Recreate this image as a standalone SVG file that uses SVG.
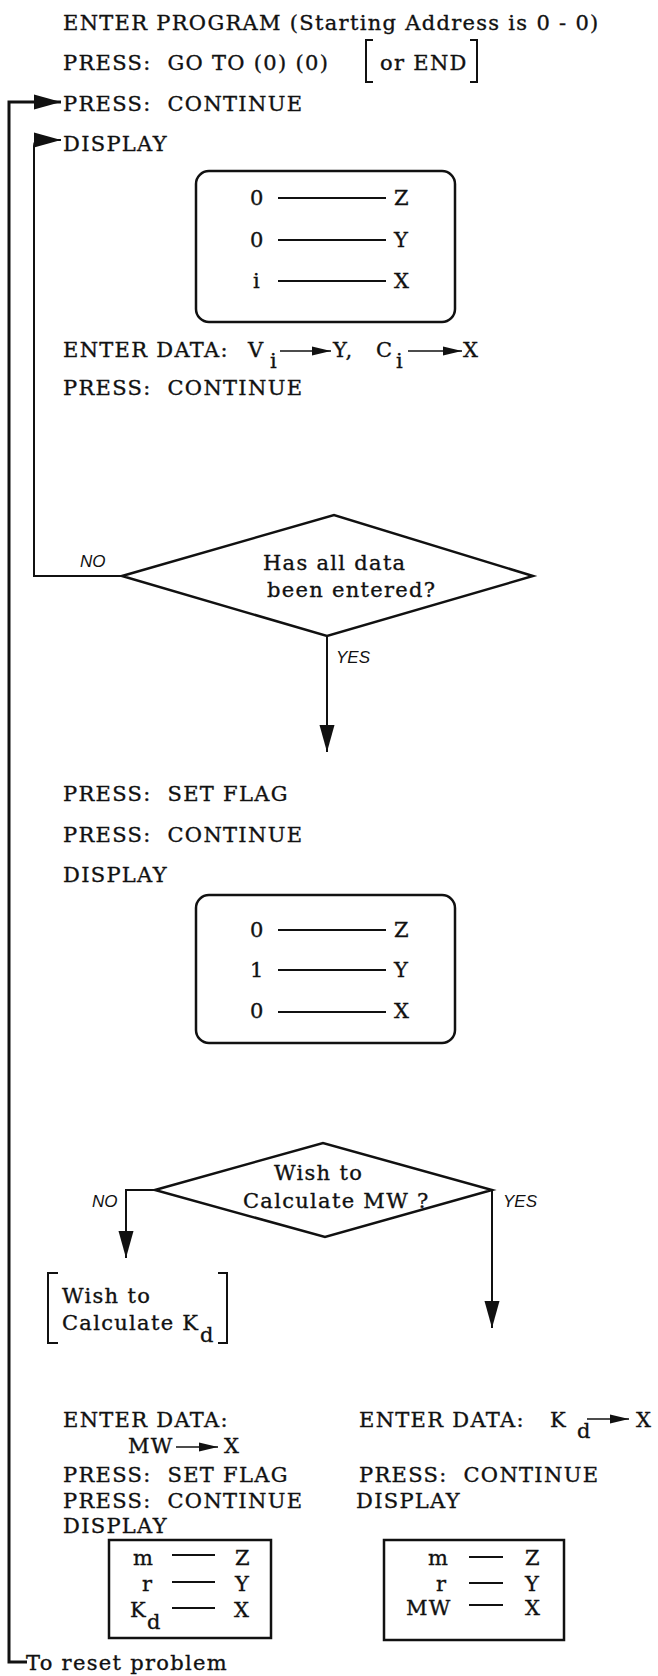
<svg xmlns="http://www.w3.org/2000/svg" width="658" height="1676" viewBox="0 0 658 1676">
<defs>
<style>
.t{font-family:"DejaVu Serif","Liberation Serif",serif;font-size:21px;letter-spacing:1.3px;fill:#111;stroke:#111;stroke-width:0.35}
.lb{font-family:"Liberation Sans",Arial,sans-serif;font-size:17px;font-style:italic;fill:#111}
.ln{fill:none;stroke:#111;stroke-width:2}
.thk{fill:none;stroke:#111;stroke-width:3}
.shape{fill:none;stroke:#111;stroke-width:2.5}
.dash{stroke:#111;stroke-width:2}
.sm{stroke:#111;stroke-width:1.6}
</style>
<marker id="big" markerUnits="userSpaceOnUse" viewBox="-28 -9 29 18" markerWidth="29" markerHeight="18" refX="0" refY="0" orient="auto">
<path d="M0,0 L-27,-7.5 L-27,7.5 Z" fill="#111"/>
</marker>
<marker id="small" markerUnits="userSpaceOnUse" viewBox="-20 -6 21 12" markerWidth="21" markerHeight="12" refX="0" refY="0" orient="auto">
<path d="M0,0 L-19,-4.5 L-19,4.5 Z" fill="#111"/>
</marker>
</defs>
<rect width="658" height="1676" fill="#fff"/>

<g id="start">
<text class="t" x="63" y="30">ENTER PROGRAM (Starting Address is 0 - 0)</text>
<text class="t" x="63" y="70" xml:space="preserve">PRESS:  GO TO (0) (0)</text>
<path class="ln" d="M373,40 H366 V82 H373 M470,40 H477 V82 H470"/>
<text class="t" x="380" y="70">or END</text>
</g>

<g id="continue1">
<text class="t" x="63" y="111" xml:space="preserve">PRESS:  CONTINUE</text>
</g>

<g id="display1">
<text class="t" x="63" y="151">DISPLAY</text>
<rect class="shape" x="196" y="171" width="259" height="151" rx="13"/>
<text class="t" x="250" y="205">0</text>
<line class="dash" x1="278" y1="198" x2="386" y2="198"/>
<text class="t" x="394" y="205">Z</text>
<text class="t" x="250" y="247">0</text>
<line class="dash" x1="278" y1="240" x2="386" y2="240"/>
<text class="t" x="394" y="247">Y</text>
<text class="t" x="253" y="288">i</text>
<line class="dash" x1="278" y1="281" x2="386" y2="281"/>
<text class="t" x="394" y="288">X</text>
</g>

<g id="enter1">
<text class="t" x="63" y="357">ENTER DATA:</text>
<text class="t" x="248" y="357">V</text>
<text class="t" x="270" y="368">i</text>
<line class="sm" x1="280" y1="351" x2="331" y2="351" marker-end="url(#small)"/>
<text class="t" x="333" y="357">Y,</text>
<text class="t" x="376" y="357">C</text>
<text class="t" x="396" y="368">i</text>
<line class="sm" x1="408" y1="351" x2="462" y2="351" marker-end="url(#small)"/>
<text class="t" x="463" y="357">X</text>
<text class="t" x="63" y="395" xml:space="preserve">PRESS:  CONTINUE</text>
</g>

<g id="decision1">
<polygon class="shape" points="122,576 334,515 533,576 327,636"/>
<text class="t" x="263" y="570">Has all data</text>
<text class="t" x="267" y="597">been entered?</text>
</g>

<g id="setflag">
<text class="t" x="63" y="801" xml:space="preserve">PRESS:  SET FLAG</text>
<text class="t" x="63" y="842" xml:space="preserve">PRESS:  CONTINUE</text>
<text class="t" x="63" y="882">DISPLAY</text>
<rect class="shape" x="196" y="895" width="259" height="148" rx="13"/>
<text class="t" x="250" y="937">0</text>
<line class="dash" x1="278" y1="930" x2="386" y2="930"/>
<text class="t" x="394" y="937">Z</text>
<text class="t" x="250" y="977">1</text>
<line class="dash" x1="278" y1="970" x2="386" y2="970"/>
<text class="t" x="394" y="977">Y</text>
<text class="t" x="250" y="1018">0</text>
<line class="dash" x1="278" y1="1012" x2="386" y2="1012"/>
<text class="t" x="394" y="1018">X</text>
</g>

<g id="decision2">
<polygon class="shape" points="155,1190 323,1143 492,1190 325,1237"/>
<text class="t" x="274" y="1180">Wish to</text>
<text class="t" x="243" y="1208">Calculate MW ?</text>
</g>

<g id="kdnote">
<path class="ln" d="M58,1273 H48 V1343 H58 M218,1273 H227 V1343 H218"/>
<text class="t" x="62" y="1303">Wish to</text>
<text class="t" x="62" y="1330">Calculate K</text>
<text class="t" x="200" y="1342">d</text>
</g>

<g id="mwbranch">
<text class="t" x="63" y="1427">ENTER DATA:</text>
<text class="t" x="128" y="1453">MW</text>
<line class="sm" x1="176" y1="1447" x2="218" y2="1447" marker-end="url(#small)"/>
<text class="t" x="224" y="1453">X</text>
<text class="t" x="63" y="1482" xml:space="preserve">PRESS:  SET FLAG</text>
<text class="t" x="63" y="1508" xml:space="preserve">PRESS:  CONTINUE</text>
<text class="t" x="63" y="1533">DISPLAY</text>
<rect class="shape" x="109" y="1540" width="162" height="98"/>
<text class="t" x="133" y="1565">m</text>
<line class="dash" x1="172" y1="1555" x2="215" y2="1555"/>
<text class="t" x="235" y="1565">Z</text>
<text class="t" x="142" y="1591">r</text>
<line class="dash" x1="172" y1="1582" x2="215" y2="1582"/>
<text class="t" x="235" y="1591">Y</text>
<text class="t" x="130" y="1617">K</text>
<text class="t" x="147" y="1629">d</text>
<line class="dash" x1="172" y1="1608" x2="215" y2="1608"/>
<text class="t" x="234" y="1617">X</text>
</g>

<g id="kdbranch">
<text class="t" x="359" y="1427">ENTER DATA:</text>
<text class="t" x="550" y="1427">K</text>
<text class="t" x="577" y="1438">d</text>
<line class="sm" x1="587" y1="1419" x2="629" y2="1419" marker-end="url(#small)"/>
<text class="t" x="636" y="1427">X</text>
<text class="t" x="359" y="1482" xml:space="preserve">PRESS:  CONTINUE</text>
<text class="t" x="356" y="1508">DISPLAY</text>
<rect class="shape" x="384" y="1540" width="180" height="100"/>
<text class="t" x="428" y="1565">m</text>
<line class="dash" x1="469" y1="1557" x2="503" y2="1557"/>
<text class="t" x="525" y="1565">Z</text>
<text class="t" x="436" y="1591">r</text>
<line class="dash" x1="469" y1="1583" x2="503" y2="1583"/>
<text class="t" x="525" y="1591">Y</text>
<text class="t" x="406" y="1615">MW</text>
<line class="dash" x1="469" y1="1605" x2="503" y2="1605"/>
<text class="t" x="525" y="1615">X</text>
</g>

<g id="reset">
<text class="t" x="26" y="1670">To reset problem</text>
</g>

<g id="connectors">
<path class="thk" d="M27,1662 H9 V102 H61" marker-end="url(#big)"/>
<path class="ln" d="M122,576 H34 V146 Q34,140 40,140 H61" marker-end="url(#big)"/>
<path class="ln" d="M327,636 V752" marker-end="url(#big)"/>
<path class="ln" d="M155,1190 H126 V1258" marker-end="url(#big)"/>
<path class="ln" d="M492,1190 V1328" marker-end="url(#big)"/>
<text class="lb" x="80" y="567">NO</text>
<text class="lb" x="336" y="663">YES</text>
<text class="lb" x="92" y="1207">NO</text>
<text class="lb" x="503" y="1207">YES</text>
</g>
</svg>
